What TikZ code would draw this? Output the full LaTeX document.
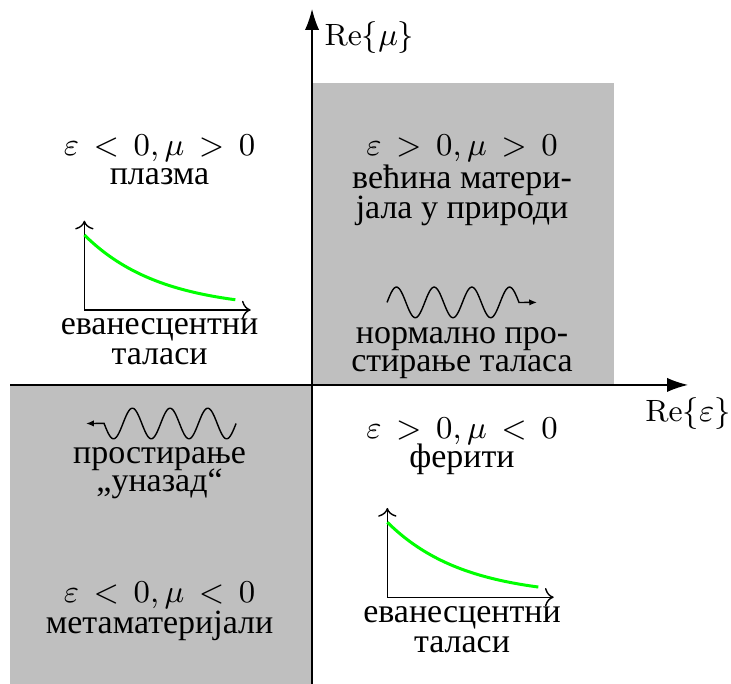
\documentclass[tikz,border=0pt]{standalone}
\usepackage{fontspec}
\newfontfamily\cyr{Liberation Serif}
\usetikzlibrary{arrows.meta}
\newcommand{\rsp}{\mskip3mu}
\begin{document}
\begin{tikzpicture}[
  txt/.style={anchor=base, inner sep=0pt, font=\cyr\fontsize{9.6}{11}\selectfont},
  mth/.style={anchor=base, inner sep=0pt, font=\fontsize{8.7}{10}\selectfont},
  axlabel/.style={font=\fontsize{8.7}{10}\selectfont},
  bigarrow/.style={-{Latex[length=5.9pt,width=4pt]}},
  minax/.style={->, line width=0.4pt},
  decay/.style={green, line width=0.85pt},
  wave/.style={line width=0.4pt, -{Latex[length=2.2pt,width=1.8pt]}},
  quad/.style={fill=black!25, draw=none}
]
\useasboundingbox (-3.10,-2.97) rectangle (4.162,3.824);
% shaded quadrants
\fill[quad] (0,0) rectangle (3,3);
\fill[quad] (-3,0) rectangle (0,-3);
% main axes
\coordinate (O) at (0,0);
\coordinate (xs) at (-3,0);
\coordinate (xe) at (3.735,0);
\coordinate (ys) at (0,-3);
\coordinate (ye) at (0,3.735);
\draw[bigarrow] (xs) -- (xe);
\draw[bigarrow] (ys) -- (ye);
\node[axlabel, anchor=north] (lx) at (xe) {$\mathrm{Re}\{\varepsilon\}$};
\node[axlabel, anchor=north west] (ly) at (ye) {$\mathrm{Re}\{\mu\}$};

% upper left
\node[mth] (ul1) at (-1.515,2.275) {$\varepsilon\rsp<\rsp0,\mu\rsp>\rsp0$};
\node[txt] (ul2) at (-1.515,1.987) {плазма};
\begin{scope}[shift={(-2.262,0.745)}]
  \coordinate (ulo) at (0,0);
  \draw[minax] (ulo) -- (1.653,0);
  \draw[minax] (ulo) -- (0,0.887);
  \draw[decay] plot[domain=0:1.5, samples=60, smooth] (\x,{0.745*exp(-1.33*\x)});
\end{scope}
\node[txt] (ul3) at (-1.515,0.497) {еванесцентни};
\node[txt] (ul4) at (-1.515,0.199) {таласи};

% upper right
\node[mth] (ur1) at (1.49,2.275) {$\varepsilon\rsp>\rsp0,\mu\rsp>\rsp0$};
\node[txt] (ur2) at (1.49,1.955) {већина матери-};
\node[txt] (ur3) at (1.49,1.656) {јала у природи};
\coordinate (urw) at (2.235,0.820);
\draw[wave] plot[domain=0:1.311, samples=120, smooth] ({0.745+\x},{0.820+0.152*sin(\x/0.3745*360)}) -- (urw);
\node[txt] (ur4) at (1.49,0.414) {нормално про-};
\node[txt] (ur5) at (1.49,0.132) {стирање таласа};

% lower left
\coordinate (llw) at (-2.245,-0.383);
\draw[wave] plot[domain=0:1.311, samples=120, smooth] ({-0.755-\x},{-0.383-0.152*sin(\x/0.3745*360)}) -- (llw);
\node[txt] (ll1) at (-1.515,-0.778) {простирање};
\node[txt] (ll2) at (-1.515,-1.06) {„уназад“};
\node[mth] (ll3) at (-1.515,-2.162) {$\varepsilon\rsp<\rsp0,\mu\rsp<\rsp0$};
\node[txt] (ll4) at (-1.515,-2.467) {метаматеријали};

% lower right
\node[mth] (lr1) at (1.49,-0.529) {$\varepsilon\rsp>\rsp0,\mu\rsp<\rsp0$};
\node[txt] (lr2) at (1.49,-0.818) {ферити};
\begin{scope}[shift={(0.748,-2.109)}]
  \coordinate (lro) at (0,0);
  \draw[minax] (lro) -- (1.653,0);
  \draw[minax] (lro) -- (0,0.887);
  \draw[decay] plot[domain=0:1.5, samples=60, smooth] (\x,{0.745*exp(-1.33*\x)});
\end{scope}
\node[txt] (lr3) at (1.49,-2.364) {еванесцентни};
\node[txt] (lr4) at (1.49,-2.66) {таласи};
\end{tikzpicture}
\end{document}
